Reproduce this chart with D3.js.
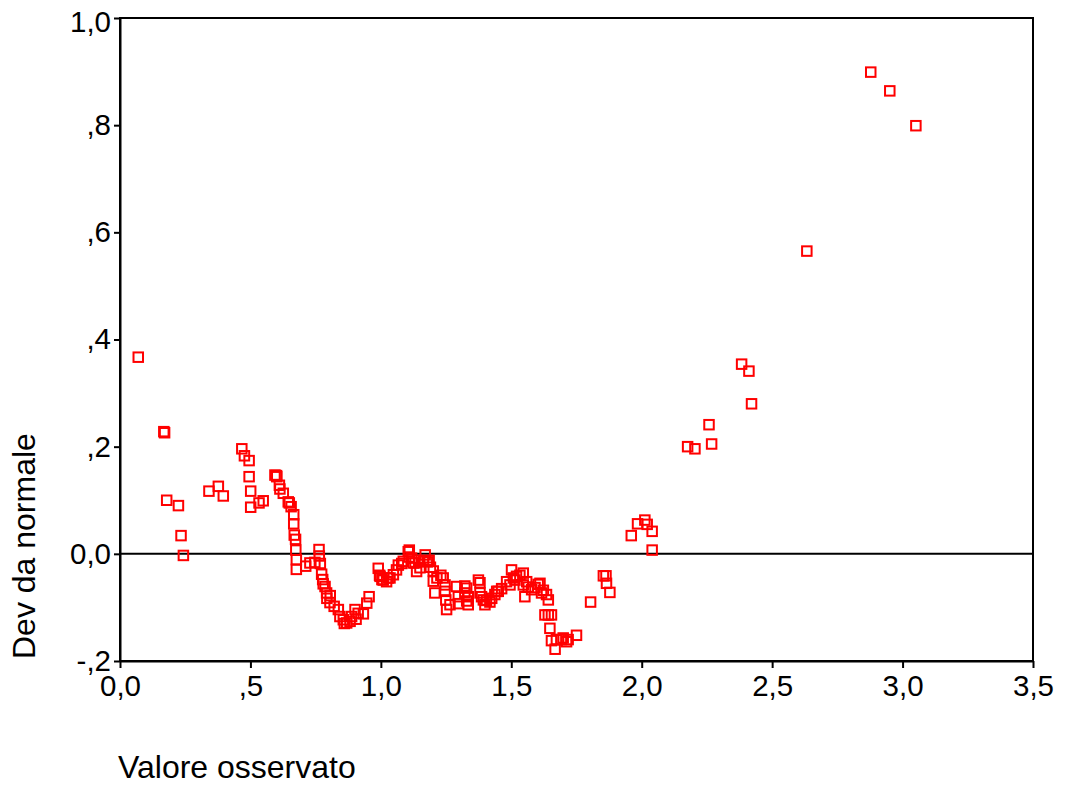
<!DOCTYPE html>
<html>
<head>
<meta charset="utf-8">
<script src="https://cdn.jsdelivr.net/npm/d3@7.9.0/dist/d3.min.js"></script>
<style>
  body { margin: 0; background: #fff; }
  svg { display: block; font-family: "Liberation Sans", Arial, sans-serif; }
</style>
</head>
<body>
<svg id="chart" width="1067" height="785"></svg>
<script>
const observed = [
  0.070, 0.168, 0.171, 0.179, 0.224, 0.234, 0.243, 0.341, 0.377, 0.396,
  0.467, 0.477, 0.495, 0.495, 0.501, 0.501, 0.533, 0.549, 0.594, 0.600,
  0.601, 0.611, 0.613, 0.626, 0.645, 0.649, 0.656, 0.666, 0.666, 0.668,
  0.673, 0.674, 0.676, 0.676, 0.712, 0.728, 0.747, 0.763, 0.764, 0.768,
  0.773, 0.777, 0.779, 0.786, 0.792, 0.793, 0.806, 0.805, 0.821, 0.837,
  0.843, 0.856, 0.860, 0.869, 0.882, 0.888, 0.901, 0.905, 0.913, 0.933,
  0.946, 0.955,
  0.990, 0.995, 0.997, 1.004, 1.009, 1.022, 1.028, 1.035, 1.048, 1.060,
  1.067, 1.080, 1.086, 1.105, 1.109, 1.109, 1.118, 1.124, 1.131, 1.137,
  1.145, 1.150, 1.163, 1.170, 1.178, 1.185, 1.190, 1.201, 1.201, 1.207,
  1.215, 1.230, 1.239, 1.246, 1.246, 1.249, 1.252, 1.265, 1.290, 1.297,
  1.297, 1.322, 1.322, 1.329, 1.329, 1.335, 1.335, 1.374, 1.380, 1.380,
  1.386, 1.393, 1.399, 1.405, 1.418, 1.425, 1.437, 1.444, 1.450, 1.463,
  1.482, 1.495, 1.501, 1.508, 1.514, 1.520, 1.533, 1.546, 1.546, 1.552,
  1.559, 1.565, 1.578, 1.591, 1.603, 1.610, 1.616, 1.623, 1.635, 1.642,
  1.629, 1.642, 1.654, 1.648, 1.654, 1.668, 1.673, 1.692, 1.699, 1.712,
  1.718, 1.750, 1.804, 1.853, 1.863, 1.865, 1.878,
  1.960, 1.984, 2.012, 2.021, 2.040, 2.040, 2.176, 2.204, 2.258, 2.268,
  2.383, 2.411, 2.421, 2.633, 2.878, 2.951, 3.051
];

const deviation = [
  0.367, 0.228, 0.226, 0.100, 0.090, 0.034, -0.003, 0.117, 0.126, 0.108,
  0.196, 0.183, 0.174, 0.144, 0.117, 0.087, 0.095, 0.099, 0.147, 0.146,
  0.144, 0.128, 0.121, 0.113, 0.097, 0.095, 0.088, 0.073, 0.056, 0.035,
  0.027, 0.007, -0.011, -0.029, -0.023, -0.017, -0.016, 0.008, -0.004, -0.018,
  -0.038, -0.048, -0.056, -0.061, -0.073, -0.083, -0.078, -0.091, -0.098, -0.104,
  -0.117, -0.123, -0.130, -0.129, -0.126, -0.117, -0.104, -0.122, -0.111, -0.112,
  -0.092, -0.080,
  -0.027, -0.040, -0.042, -0.048, -0.049, -0.052, -0.045, -0.045, -0.039, -0.030,
  -0.021, -0.018, -0.014, 0.004, 0.007, -0.006, -0.008, -0.017, -0.017, -0.033,
  -0.012, -0.026, -0.014, -0.002, -0.015, -0.012, -0.025, -0.032, -0.051, -0.073,
  -0.045, -0.040, -0.045, -0.058, -0.070, -0.086, -0.104, -0.095, -0.061, -0.080,
  -0.093, -0.060, -0.073, -0.064, -0.088, -0.080, -0.095, -0.049, -0.054, -0.073,
  -0.080, -0.086, -0.095, -0.087, -0.090, -0.083, -0.076, -0.070, -0.070, -0.065,
  -0.052, -0.058, -0.030, -0.045, -0.049, -0.042, -0.040, -0.036, -0.058, -0.080,
  -0.052, -0.062, -0.067, -0.063, -0.057, -0.055, -0.073, -0.068, -0.076, -0.086,
  -0.114, -0.114, -0.114, -0.139, -0.162, -0.178, -0.160, -0.160, -0.157, -0.164,
  -0.160, -0.152, -0.090, -0.041, -0.041, -0.055, -0.072,
  0.034, 0.056, 0.063, 0.055, 0.042, 0.007, 0.200, 0.196, 0.241, 0.205,
  0.354, 0.341, 0.280, 0.565, 0.899, 0.864, 0.799
];

const xTicks = [0, 0.5, 1, 1.5, 2, 2.5, 3, 3.5];
const yTicks = [-0.2, 0, 0.2, 0.4, 0.6, 0.8, 1.0];

const xTitle = 'Valore osservato';
const yTitle = 'Dev da normale';

const width = 1067;
const height = 785;
const margin = { top: 18, right: 34, bottom: 124, left: 120 };

// SPSS style labels: comma decimal, no leading zero
function spssFormat(v) {
  if (Math.abs(v) < 1e-9) return '0,0';
  let s = Math.abs(v).toFixed(1).replace('.', ',');
  if (s.startsWith('0,')) s = s.slice(1);
  return (v < 0 ? '-' : '') + s;
}

const svg = d3.select('#chart');

const x = d3.scaleLinear()
  .domain([0, 3.5])
  .range([margin.left, width - margin.right]);

const y = d3.scaleLinear()
  .domain([-0.2, 1.0])
  .range([height - margin.bottom, margin.top]);

// frame
svg.append('rect')
  .attr('x', x(0))
  .attr('y', y(1.0))
  .attr('width', x(3.5) - x(0))
  .attr('height', y(-0.2) - y(1.0))
  .attr('fill', 'none')
  .attr('stroke', '#000')
  .attr('stroke-width', 2);

let xAxis = svg.append('g')
  .attr('transform', `translate(0,${y(-0.2)})`)
  .call(d3.axisBottom(x).tickValues(xTicks).tickFormat(spssFormat)
    .tickSize(7).tickSizeOuter(0).tickPadding(7));

let yAxis = svg.append('g')
  .attr('transform', `translate(${x(0)},0)`)
  .call(d3.axisLeft(y).tickValues(yTicks).tickFormat(spssFormat)
    .tickSize(6).tickSizeOuter(0).tickPadding(3));

[xAxis, yAxis].forEach((g) => {
  g.select('.domain').attr('stroke-width', 2);
  g.selectAll('.tick line').attr('stroke-width', 2);
  g.selectAll('.tick text')
    .attr('fill', '#000')
    .attr('font-size', 29.5)
    .attr('font-family', '"Liberation Sans", Arial, sans-serif');
});

// top label sits a little lower, as in the original
yAxis.selectAll('.tick text')
  .filter((d) => d === 1.0)
  .attr('dy', '0.46em');

// reference line at zero
svg.append('line')
  .attr('x1', x(0))
  .attr('x2', x(3.5))
  .attr('y1', y(0))
  .attr('y2', y(0))
  .attr('stroke', '#000')
  .attr('stroke-width', 2);

const points = observed.map((d, i) => ({ x: d, y: deviation[i] }));
const size = 9.5;

svg.append('g')
  .selectAll('rect')
  .data(points)
  .join('rect')
  .attr('x', (d) => x(d.x) - size / 2)
  .attr('y', (d) => y(d.y) - size / 2)
  .attr('width', size)
  .attr('height', size)
  .attr('fill', 'none')
  .attr('stroke', '#ff0000')
  .attr('stroke-width', 2);

svg.append('text')
  .attr('x', 118)
  .attr('y', 778)
  .attr('font-size', 32)
  .attr('fill', '#000')
  .text(xTitle);

svg.append('text')
  .attr('transform', `translate(35,${y(-0.2) - 2}) rotate(-90)`)
  .attr('font-size', 32)
  .attr('fill', '#000')
  .text(yTitle);
</script>
</body>
</html>
